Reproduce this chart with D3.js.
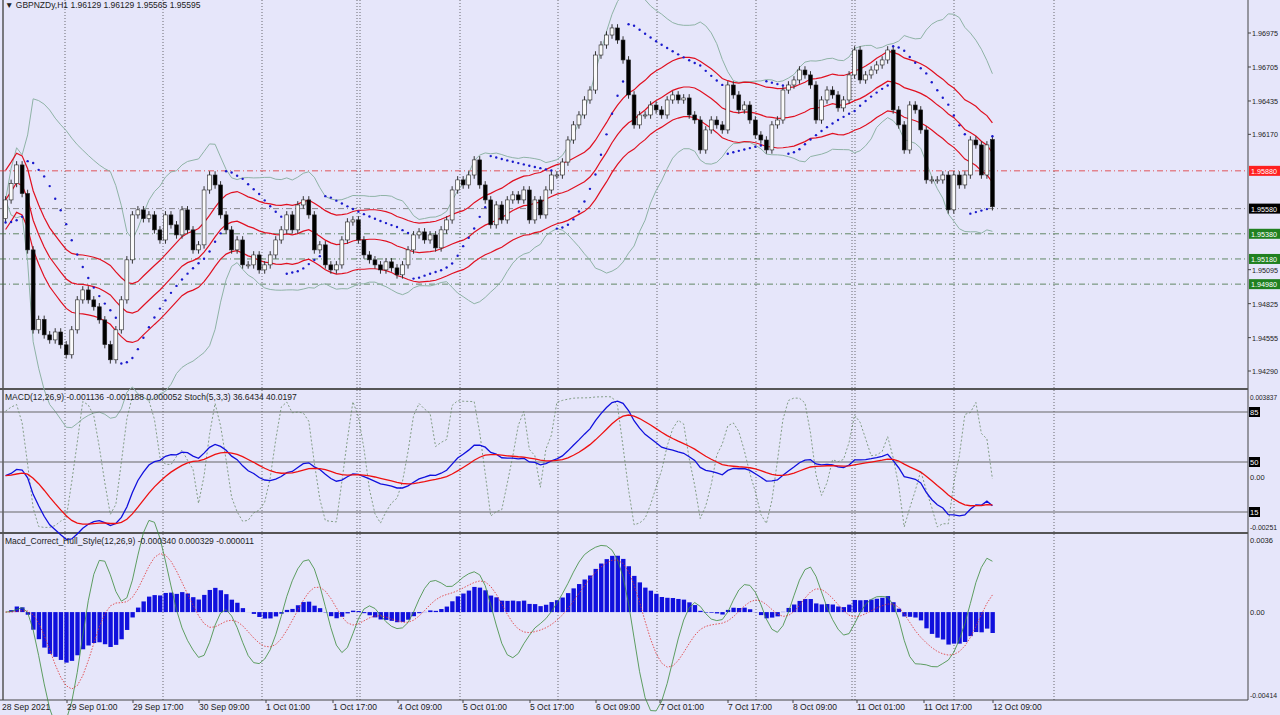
<!DOCTYPE html>
<html><head><meta charset="utf-8">
<script src="https://cdn.jsdelivr.net/npm/d3@7"></script>
<style>
body{margin:0;background:#e6e6fa;overflow:hidden}
text{font-family:"Liberation Sans",Arial,sans-serif;font-size:8.5px;fill:#222}
.ax{font-size:7.5px}
</style></head><body>
<svg id="c" width="1280" height="715"></svg>
<script>
const closes = [1.95649,1.95780,1.95927,1.95700,1.95252,1.94617,1.94700,1.94577,1.94537,1.94600,1.94498,1.94419,1.94617,1.94855,1.94934,1.94855,1.94800,1.94696,1.94500,1.94379,
1.94617,1.94855,1.95173,1.95530,1.95570,1.95500,1.95530,1.95411,1.95331,1.95530,1.95451,1.95371,1.95570,1.95411,1.95252,1.95292,1.95728,1.95847,1.95768,
1.95530,1.95411,1.95252,1.95331,1.95133,1.95133,1.95212,1.95093,1.95133,1.95212,1.95331,1.95411,1.95530,1.95411,1.95609,1.95649,1.95530,1.95252,1.95292,
1.95133,1.95093,1.95133,1.95331,1.95474,1.95490,1.95331,1.95212,1.95173,1.95133,1.95093,1.95157,1.95109,1.95054,1.95133,1.95252,1.95371,1.95395,1.95331,
1.95371,1.95268,1.95411,1.95490,1.95728,1.95808,1.95768,1.95847,1.95967,1.95768,1.95649,1.95451,1.95609,1.95490,1.95649,1.95689,1.95649,1.95728,1.95490,
1.95649,1.95530,1.95728,1.95847,1.95847,1.95950,1.96125,1.96245,1.96324,1.96443,1.96522,1.96800,1.96880,1.96959,1.97015,
1.96919,1.96761,1.96483,1.96245,1.96324,1.96324,1.96403,1.96364,1.96324,1.96443,1.96483,1.96443,1.96459,1.96324,1.96284,1.96046,1.96205,1.96284,1.96245,1.96205,1.96562,1.96483,
1.96364,1.96403,1.96284,1.96165,1.96125,1.96046,1.96245,1.96284,1.96522,1.96562,1.96602,1.96681,1.96642,1.96562,1.96284,1.96443,1.96522,1.96483,1.96380,1.96443,
1.96642,1.96840,1.96602,1.96642,1.96681,1.96721,1.96761,1.96840,1.96364,1.96245,1.96046,1.96403,1.96364,1.96205,1.95808,1.95808,1.95808,1.95847,1.95570,1.95847,1.95768,1.95847,
1.96125,1.96086,1.95847,1.96086,1.95595];
const firstOpen = 1.95500, lastOpen = 1.96129, wick = 0.0003;
const priceTicks = [1.96975,1.96705,1.96435,1.96170,1.95095,1.94825,1.94555,1.94290];
const levels = [{v:1.95880,c:"#e03030",lab:"#ff2020"},{v:1.95580,c:"#707070",lab:"#000"},{v:1.95380,c:"#407040",lab:"#208020"},{v:1.95180,c:"#407040",lab:"#208020"},{v:1.94980,c:"#407040",lab:"#208020"}];
const dateLabels = ["28 Sep 2021","29 Sep 01:00","29 Sep 17:00","30 Sep 09:00","1 Oct 01:00","1 Oct 17:00","4 Oct 09:00","5 Oct 01:00","5 Oct 17:00","6 Oct 09:00","7 Oct 01:00","7 Oct 17:00","8 Oct 09:00","11 Oct 01:00","11 Oct 17:00","12 Oct 09:00"];
const dateX = [2,67,133,199,266,333,398,463,530,596,660,728,793,857,924,993];
const separators = [65,163,262,357,360,460,558,657,756,852,855,954,1054];

const svg = d3.select("#c");
const N = closes.length;
const opens = closes.map((c,i)=> i==0?firstOpen:(i==N-1?lastOpen:closes[i-1]));
const highs = closes.map((c,i)=>Math.max(c,opens[i])+wick);
const lows = closes.map((c,i)=>Math.min(c,opens[i])-wick);

const x = d3.scaleBand().domain(d3.range(N)).range([2,996]).padding(0.3);
const cx = i => x(i)+x.bandwidth()/2;
const y = d3.scaleLinear().domain([1.94290,1.96975]).range([371,33]);
const yM = d3.scaleLinear().domain([-0.00251,0.003837]).range([527,397]);
const yS = d3.scaleLinear().domain([15,85]).range([512,412]);
const yH = d3.scaleLinear().domain([-0.00414,0.0036]).range([695,540]);

// indicators
const sma=(a,n)=>a.map((v,i)=>d3.mean(a.slice(Math.max(0,i-n+1),i+1)));
const ema=(a,n)=>{const k=2/(n+1);let r=[];a.forEach((v,i)=>r.push(i?v*k+r[i-1]*(1-k):v));return r;};
const wma=(a,n)=>a.map((v,i)=>{let s=0,w=0;for(let j=0;j<n&&i-j>=0;j++){s+=a[i-j]*(n-j);w+=n-j;}return s/w;});
const hma=(a,n)=>{const d=wma(a,Math.round(n/2)).map((v,i)=>2*v-wma(a,n)[i]);return wma(d,Math.round(Math.sqrt(n)));};
const mid = sma(closes,20);
const sd = closes.map((v,i)=>d3.deviation(closes.slice(Math.max(0,i-19),i+1))||0);
const bbU = mid.map((m,i)=>m+2*sd[i]), bbL = mid.map((m,i)=>m-2*sd[i]);
const envU = mid.map(m=>m*1.0012), envL = mid.map(m=>m*0.9988);
// parabolic SAR
let sar=[],up=true,af=0.02,ep=highs[0],s=lows[0];
for(let i=0;i<N;i++){
  if(i>0){s=s+af*(ep-s);
    if(up){if(lows[i]<s){up=false;s=ep;ep=lows[i];af=0.02;}else if(highs[i]>ep){ep=highs[i];af=Math.min(0.2,af+0.02);}}
    else{if(highs[i]>s){up=true;s=ep;ep=highs[i];af=0.02;}else if(lows[i]<ep){ep=lows[i];af=Math.min(0.2,af+0.02);}}}
  sar.push(s);
}
const macd = ema(closes,12).map((v,i)=>v-ema(closes,26)[i]);
const sig = ema(macd,9);
const rawK = closes.map((c,i)=>{const h=d3.max(highs.slice(Math.max(0,i-4),i+1)),l=d3.min(lows.slice(Math.max(0,i-4),i+1));return (c-l)/(h-l)*100;});
const stK = sma(rawK,3);
const hm = ema(hma(closes,12).map((v,i)=>v-hma(closes,26)[i]),3);
const hsig = ema(hm,9);
const hist = macd.map((v,i)=>v-sig[i]*0.3);

// panels
svg.append("line").attr("x1",3).attr("x2",3).attr("y1",0).attr("y2",700).attr("stroke","#555").attr("stroke-width",1.5);
svg.append("line").attr("x1",1248).attr("x2",1248).attr("y1",0).attr("y2",700).attr("stroke","#444");
[389,533].forEach(v=>svg.append("line").attr("x1",0).attr("x2",1248).attr("y1",v).attr("y2",v).attr("stroke","#555").attr("stroke-width",2));
svg.append("line").attr("x1",0).attr("x2",1248).attr("y1",700).attr("y2",700).attr("stroke","#444");
svg.append("g").selectAll("line").data(separators).join("line")
  .attr("x1",d=>d).attr("x2",d=>d).attr("y1",0).attr("y2",700).attr("stroke","#333").attr("stroke-width",0.7).attr("stroke-dasharray","1,2");

// levels
svg.append("g").selectAll("line").data(levels).join("line")
  .attr("x1",0).attr("x2",1248).attr("y1",d=>y(d.v)).attr("y2",d=>y(d.v)).attr("stroke",d=>d.c).attr("stroke-width",0.8).attr("stroke-dasharray","6,3,1,3");

const line=(arr,sc)=>d3.line().x((d,i)=>cx(i)).y(d=>sc(d))(arr);
[bbU,bbL].forEach(a=>svg.append("path").attr("d",line(a,y)).attr("fill","none").attr("stroke","#8fb3a6").attr("stroke-width",1));
[mid,envU,envL].forEach(a=>svg.append("path").attr("d",line(a,y)).attr("fill","none").attr("stroke","#e01020").attr("stroke-width",1.2));

// candles
const cg = svg.append("g");
cg.selectAll("line").data(closes).join("line")
  .attr("x1",(d,i)=>cx(i)).attr("x2",(d,i)=>cx(i)).attr("y1",(d,i)=>y(highs[i])).attr("y2",(d,i)=>y(lows[i])).attr("stroke","#333");
cg.selectAll("rect").data(closes).join("rect")
  .attr("x",(d,i)=>x(i)).attr("width",x.bandwidth())
  .attr("y",(d,i)=>y(Math.max(d,opens[i]))).attr("height",(d,i)=>Math.max(1,Math.abs(y(d)-y(opens[i]))))
  .attr("fill",(d,i)=>d>=opens[i]?"#fafafa":"#000").attr("stroke","#222").attr("stroke-width",0.6);
svg.append("g").selectAll("circle").data(sar).join("circle")
  .attr("cx",(d,i)=>cx(i)).attr("cy",d=>y(d)).attr("r",1.2).attr("fill","#1a1acc");

// MACD / Stoch panel
[85,50,15].forEach(v=>svg.append("line").attr("x1",0).attr("x2",1248).attr("y1",yS(v)).attr("y2",yS(v)).attr("stroke","#666"));
svg.append("path").attr("d",line(stK,yS)).attr("fill","none").attr("stroke","#6a8a6a").attr("stroke-width",0.8).attr("stroke-dasharray","2,2");
svg.append("path").attr("d",line(macd,yM)).attr("fill","none").attr("stroke","#1010dd").attr("stroke-width",1.3);
svg.append("path").attr("d",line(sig,yM)).attr("fill","none").attr("stroke","#ee1010").attr("stroke-width",1.3);

// Hull panel
svg.append("g").selectAll("rect").data(hist).join("rect")
  .attr("x",(d,i)=>x(i)).attr("width",x.bandwidth()+0.5)
  .attr("y",d=>Math.min(yH(d),yH(0))).attr("height",d=>Math.abs(yH(d)-yH(0))).attr("fill","#1010dd");
svg.append("path").attr("d",line(hm,yH)).attr("fill","none").attr("stroke","#3a8a3a").attr("stroke-width",0.8);
svg.append("path").attr("d",line(hsig,yH)).attr("fill","none").attr("stroke","#e03030").attr("stroke-width",0.8).attr("stroke-dasharray","1.5,1.5");

// right axis
const rt = svg.append("g").attr("class","ax");
priceTicks.forEach(v=>{rt.append("line").attr("x1",1248).attr("x2",1251).attr("y1",y(v)).attr("y2",y(v)).attr("stroke","#444");
  rt.append("text").attr("class","ax").attr("x",1252).attr("y",y(v)+3).attr("textLength",26).attr("lengthAdjust","spacingAndGlyphs").text(v.toFixed(5));});
levels.forEach(d=>{rt.append("rect").attr("x",1249).attr("y",y(d.v)-5).attr("width",31).attr("height",10).attr("fill",d.lab);
  rt.append("text").attr("class","ax").attr("x",1251).attr("y",y(d.v)+3).attr("textLength",26).attr("lengthAdjust","spacingAndGlyphs").style("fill","#fff").text(d.v.toFixed(5));});
[["0.003837",397],["0.00",477],["-0.00251",527],["0.0036",540],["0.00",612],["-0.00414",695]].forEach(d=>{
  const t=rt.append("text").attr("class","ax").attr("x",1250).attr("y",d[1]+3).text(d[0]);
  if(d[0].length>6) t.attr("textLength",27).attr("lengthAdjust","spacingAndGlyphs");});
[85,50,15].forEach(v=>{rt.append("rect").attr("x",1249).attr("y",yS(v)-5).attr("width",11).attr("height",10).attr("fill","#000");
  rt.append("text").attr("class","ax").attr("x",1250).attr("y",yS(v)+3).style("fill","#fff").text(v);});

// labels
svg.append("text").attr("x",5).attr("y",8).text("▼  GBPNZDy,H1  1.96129 1.96129 1.95565 1.95595");
svg.append("text").attr("x",5).attr("y",400).text("MACD(12,26,9) -0.001136 -0.001188 0.000052  Stoch(5,3,3) 36.6434 40.0197");
svg.append("text").attr("x",5).attr("y",544).text("Macd_Correct_Hull_Style(12,26,9) -0.000340 0.000329 -0.000011");
svg.append("g").selectAll("text").data(dateLabels).join("text").attr("x",(d,i)=>dateX[i]).attr("y",710).text(d=>d);
dateX.slice(1).forEach(v=>svg.append("line").attr("x1",v).attr("x2",v).attr("y1",700).attr("y2",703).attr("stroke","#444"));
</script></body></html>
